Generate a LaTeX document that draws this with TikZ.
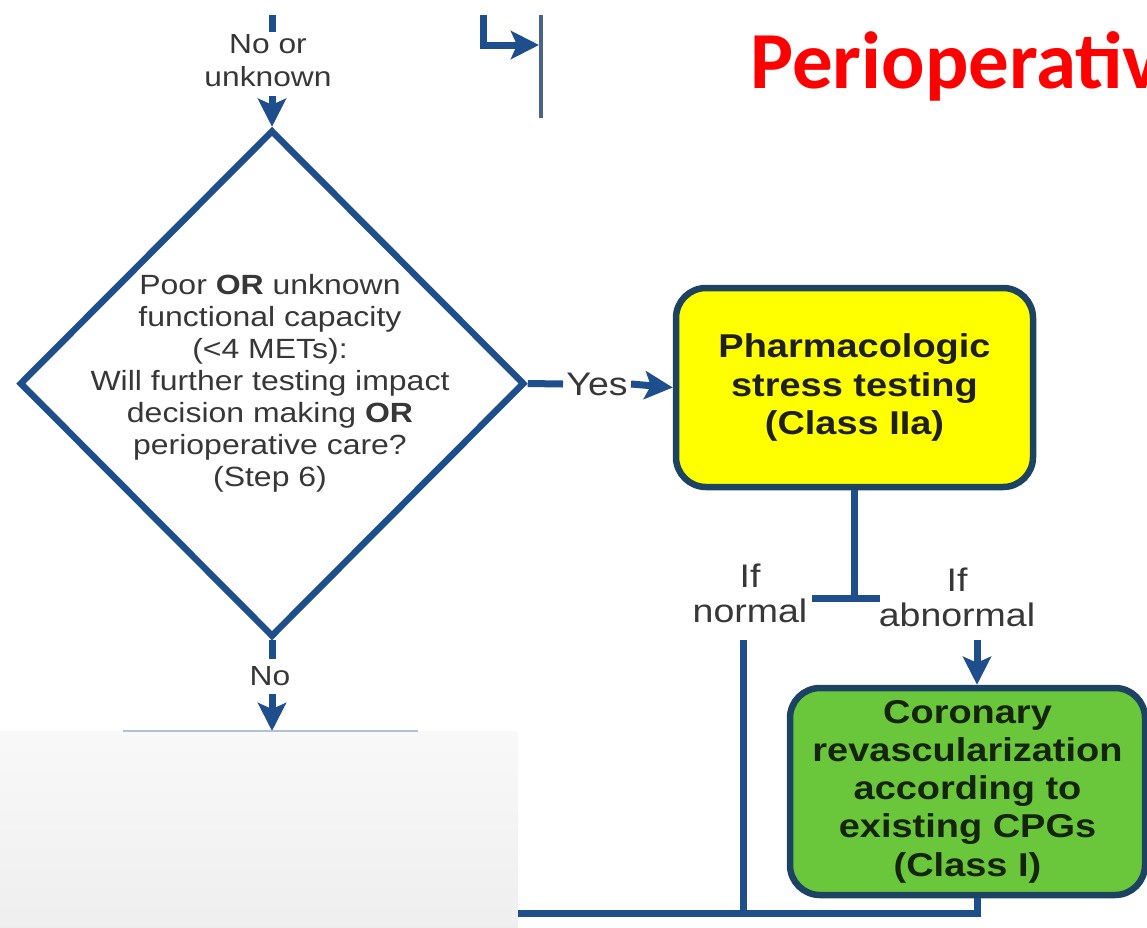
\documentclass[tikz,border=0pt]{standalone}
\usepackage{fontspec}
\setmainfont{Liberation Sans}[FakeStretch=1.15]
\newfontfamily\titlefont{Carlito}
\usetikzlibrary{shapes.geometric,arrows.meta}
\definecolor{cblue}{RGB}{31,78,140}
\definecolor{bordc}{RGB}{28,68,98}
\definecolor{yfill}{RGB}{255,255,0}
\definecolor{gfill}{RGB}{106,198,58}
\definecolor{tgray}{RGB}{55,55,55}
\definecolor{gtext}{RGB}{22,36,12}
\definecolor{titred}{RGB}{255,0,0}
\begin{document}
\begin{tikzpicture}[x=1pt,y=-1pt,
  conn/.style={draw=cblue, line width=7pt},
  arr/.style={conn, -{Stealth[length=28pt,width=28pt,inset=6pt]}},
  lbl/.style={font=\fontsize{27.6}{33}\selectfont, text=tgray, align=center, inner sep=0pt},
  lblbig/.style={font=\fontsize{32.6}{35}\selectfont, text=tgray, align=center, inner sep=0pt},
  dtext/.style={font=\fontsize{27.8}{32}\selectfont, text=tgray, align=center, inner sep=0pt},
  decision/.style={diamond, draw=cblue, line width=6.5pt, minimum width=505pt, minimum height=507pt, inner sep=0pt},
  actbox/.style={draw=bordc, line width=6.5pt, rounded corners=30pt, align=center, inner sep=0pt,
    font=\bfseries\fontsize{33}{38.3}\selectfont}
]
\clip (0,0) rectangle (1147,927);
\fill[white] (0,0) rectangle (1147,927);

% title
\node[anchor=base west, inner sep=0pt, text=titred, font=\titlefont\bfseries\fontsize{81}{81}\selectfont] (title) at (750,88) {Perioperativ};

% top fragments
\coordinate (t0) at (272,15);
\coordinate (t1) at (272,32);
\draw[conn] (t0) -- (t1);
\coordinate (l0) at (483,15);
\coordinate (l1) at (483,45);
\coordinate (l2) at (539,45);
\draw[arr] (l0) -- (l1) -- (l2);
\coordinate (e0) at (541,15);
\coordinate (e1) at (541,118);
\draw[draw=cblue!55!gray, line width=3.5pt] (e0) -- (e1);

% decision diamond
\node[lbl] (nou) at (268,61) {No or\\unknown};
\node[decision] (q) at (272,383.5) {};
\node[dtext] (qt) at (270,383.5) {Poor \textbf{OR} unknown\\functional capacity\\(<4 METs):\\Will further testing impact\\decision making \textbf{OR}\\perioperative care?\\(Step 6)};
\coordinate (a1) at (272,96);
\draw[arr] (a1) -- (q.north);

% No branch
\coordinate (n1) at (272,659);
\draw[conn] (q.south) -- (n1);
\node[lbl] (no) at (270,676) {No};
\coordinate (n2) at (272,694);
\coordinate (n3) at (272,731);
\draw[arr] (n2) -- (n3);

% covering panel
\fill[top color=gray!5, bottom color=gray!13] (0,731) rectangle (518,927);
\coordinate (p0) at (123,731);
\coordinate (p1) at (418,731);
\draw[draw=cblue!35!white, line width=1.5pt] (p0) -- (p1);

% yellow box
\node[actbox, fill=yfill, text=black!88, minimum width=357pt, minimum height=199pt] (ybox) at (854.5,387.5)
  {Pharmacologic\\stress testing\\(Class IIa)};
\coordinate (y1) at (563,384);
\draw[conn] (q.east) -- (y1);
\node[lblbig] (yes) at (597,384) {Yes};
\coordinate (y2) at (631,384);
\draw[arr] (y2) -- (ybox.west);

% T split
\coordinate (tj) at (854,598);
\coordinate (tl) at (812,598);
\coordinate (tr) at (880,598);
\draw[conn] (ybox.south -| tj) -- (tj);
\draw[conn] (tl) -- (tr);
\node[lblbig] (ifn) at (750,593) {If\\normal};
\node[lblbig] (ifa) at (957,597) {If\\abnormal};

% green box
\node[actbox, fill=gfill, text=gtext, minimum width=355pt, minimum height=207pt] (gbox) at (967.5,791.5)
  {Coronary\\revascularization\\according to\\existing CPGs\\(Class I)};
\coordinate (ab) at (977,640);
\draw[arr] (ab) -- (ab |- gbox.north);

% bottom merge
\coordinate (nm0) at (743,640);
\coordinate (nm1) at (743,913);
\draw[conn] (nm0) -- (nm1);
\coordinate (b0) at (977,913);
\coordinate (b1) at (518,913);
\draw[conn] (b0 |- gbox.south) -- (b0) -- (b1);
\end{tikzpicture}
\end{document}
